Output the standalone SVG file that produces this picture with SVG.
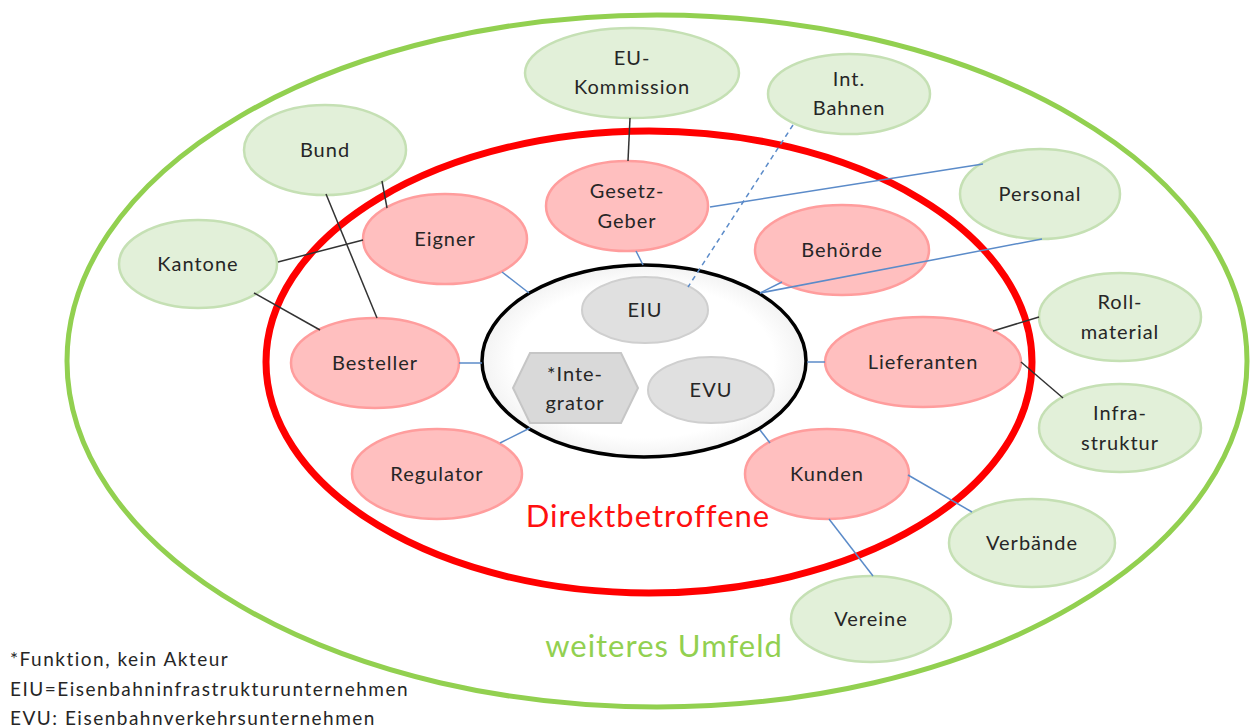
<svg xmlns="http://www.w3.org/2000/svg" width="1256" height="727" viewBox="0 0 1256 727">
<defs>
<radialGradient id="wg" cx="50%" cy="50%" r="50%">
<stop offset="0" stop-color="#ffffff"/>
<stop offset="0.8" stop-color="#ffffff"/>
<stop offset="1" stop-color="#f3f3f3"/>
</radialGradient>
<style>
text{font-family:Lato,"Open Sans","Liberation Sans",sans-serif;font-size:20px;letter-spacing:1px;fill:#262626;text-anchor:middle}
.g{fill:#e2f0d9;stroke:#c5e0b4;stroke-width:2.5}
.r{fill:#ffbfbf;stroke:#ff9d9d;stroke-width:2.5}
.gr{fill:#e0e0e0;stroke:#cfcfcf;stroke-width:2}
.k{stroke:#333;stroke-width:1.5;fill:none}
.b{stroke:#5b8bc9;stroke-width:1.5;fill:none}
.d{stroke:#5b8bc9;stroke-width:1.5;fill:none;stroke-dasharray:5 4}
.leg{text-anchor:start;font-size:19px;letter-spacing:1.5px}
.big{font-size:31px;letter-spacing:1px}
</style>
</defs>
<rect width="1256" height="727" fill="#ffffff"/>
<g id="rings">
<ellipse cx="657" cy="361" rx="590" ry="346" fill="none" stroke="#92d050" stroke-width="5"/>
<ellipse cx="649" cy="362" rx="383" ry="231" fill="none" stroke="#ff0000" stroke-width="7"/>
<ellipse cx="644" cy="361" rx="162" ry="96" fill="url(#wg)" stroke="#000" stroke-width="3.5"/>
</g>
<text class="big" x="648" y="527" style="fill:#ff1010">Direktbetroffene</text>
<text class="big" x="664" y="657" style="fill:#92d050">weiteres Umfeld</text>
<g id="n-eu"><ellipse class="g" cx="632" cy="73" rx="107" ry="45"/><text x="632" y="65">EU-</text><text x="632" y="94">Kommission</text></g>
<g id="n-intbahnen"><ellipse class="g" cx="849" cy="94" rx="81" ry="40"/><text x="849" y="86">Int.</text><text x="849" y="115">Bahnen</text></g>
<g id="n-bund"><ellipse class="g" cx="325" cy="150" rx="81" ry="45"/><text x="325" y="157">Bund</text></g>
<g id="n-kantone"><ellipse class="g" cx="198" cy="264" rx="79" ry="44"/><text x="198" y="271">Kantone</text></g>
<g id="n-personal"><ellipse class="g" cx="1040" cy="194" rx="80" ry="45"/><text x="1040" y="201">Personal</text></g>
<g id="n-roll"><ellipse class="g" cx="1120" cy="317" rx="81" ry="44"/><text x="1120" y="309">Roll-</text><text x="1120" y="339">material</text></g>
<g id="n-infra"><ellipse class="g" cx="1120" cy="428" rx="81" ry="44"/><text x="1120" y="420">Infra-</text><text x="1120" y="450">struktur</text></g>
<g id="n-verbaende"><ellipse class="g" cx="1032" cy="543" rx="83" ry="44"/><text x="1032" y="550">Verbände</text></g>
<g id="n-vereine"><ellipse class="g" cx="871" cy="619" rx="80" ry="43"/><text x="871" y="626">Vereine</text></g>
<g id="n-gesetz"><ellipse class="r" cx="627" cy="206" rx="81" ry="45"/><text x="627" y="198">Gesetz-</text><text x="627" y="228">Geber</text></g>
<g id="n-eigner"><ellipse class="r" cx="445" cy="239" rx="82" ry="45"/><text x="445" y="246">Eigner</text></g>
<g id="n-behoerde"><ellipse class="r" cx="842" cy="250" rx="87" ry="45"/><text x="842" y="257">Behörde</text></g>
<g id="n-besteller"><ellipse class="r" cx="375" cy="363" rx="84" ry="45"/><text x="375" y="370">Besteller</text></g>
<g id="n-lieferanten"><ellipse class="r" cx="923" cy="362" rx="98" ry="45"/><text x="923" y="369">Lieferanten</text></g>
<g id="n-regulator"><ellipse class="r" cx="437" cy="474" rx="85" ry="45"/><text x="437" y="481">Regulator</text></g>
<g id="n-kunden"><ellipse class="r" cx="827" cy="474" rx="82" ry="45"/><text x="827" y="481">Kunden</text></g>
<g id="n-eiu"><ellipse class="gr" cx="645" cy="310" rx="63" ry="33"/><text x="645" y="317">EIU</text></g>
<g id="n-evu"><ellipse class="gr" cx="711" cy="390" rx="63" ry="33"/><text x="711" y="397">EVU</text></g>
<g id="n-integrator"><polygon points="513,388 530,353 621,353 638,388 621,423 530,423" fill="#d9d9d9" stroke="#c6c6c6" stroke-width="2"/><text x="575" y="381">*Inte-</text><text x="575" y="410">grator</text></g>
<g id="connectors">
<line class="k" x1="382" y1="181" x2="387" y2="208"/>
<line class="k" x1="326" y1="194" x2="377" y2="318"/>
<line class="k" x1="278" y1="262" x2="363" y2="240"/>
<line class="k" x1="254" y1="293" x2="320" y2="330"/>
<line class="k" x1="630" y1="118" x2="628" y2="161"/>
<line class="k" x1="993" y1="331" x2="1039" y2="317"/>
<line class="k" x1="1021" y1="362" x2="1063" y2="398"/>
<line class="b" x1="502" y1="272" x2="529" y2="293"/>
<line class="b" x1="636" y1="251" x2="643" y2="265"/>
<line class="b" x1="459" y1="363" x2="482" y2="363"/>
<line class="b" x1="500" y1="443" x2="530" y2="428"/>
<line class="b" x1="807" y1="362" x2="825" y2="362"/>
<line class="b" x1="760" y1="430" x2="770" y2="443"/>
<line class="b" x1="782" y1="282" x2="760" y2="293"/>
<line class="b" x1="983" y1="164" x2="710" y2="207"/>
<line class="b" x1="1042" y1="239" x2="760" y2="293"/>
<line class="d" x1="793" y1="125" x2="688" y2="287"/>
<line class="b" x1="908" y1="475" x2="972" y2="512"/>
<line class="b" x1="829" y1="519" x2="873" y2="576"/>
</g>
<g id="legend">
<text class="leg" x="10" y="666">*Funktion, kein Akteur</text>
<text class="leg" x="10" y="696">EIU=Eisenbahninfrastrukturunternehmen</text>
<text class="leg" x="10" y="725">EVU: Eisenbahnverkehrsunternehmen</text>
</g>
</svg>
